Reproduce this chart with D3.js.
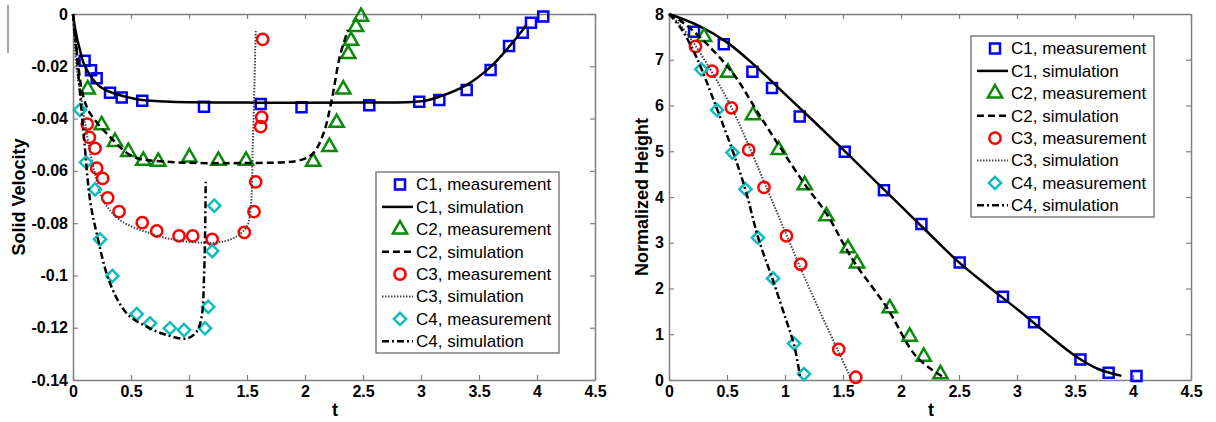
<!DOCTYPE html>
<html>
<head>
<meta charset="utf-8">
<script src="https://cdn.jsdelivr.net/npm/d3@7"></script>
<style>
  body { margin: 0; background: #fff; }
  svg text { font-family: "Liberation Sans", Arial, sans-serif; }
</style>
</head>
<body>
<div id="chart"></div>
<script>
const width = 1216
const height = 422

// ticks
const tTicks = [0, 0.5, 1, 1.5, 2, 2.5, 3, 3.5, 4, 4.5]
const velTicks = [0, -0.02, -0.04, -0.06, -0.08, -0.1, -0.12, -0.14]
const hTicks = [0, 1, 2, 3, 4, 5, 6, 7, 8]

const legendLabels = ["C1, measurement", "C1, simulation", "C2, measurement", "C2, simulation",
  "C3, measurement", "C3, simulation", "C4, measurement", "C4, simulation"]

// solid velocity panel, [t, v]
const velC1Meas = [[0.10,-0.0179],[0.155,-0.0215],[0.204,-0.0246],[0.319,-0.0301],[0.42,-0.0319],[0.597,-0.0332],
  [1.129,-0.0355],[1.618,-0.0344],[1.97,-0.0357],[2.554,-0.0349],[2.985,-0.0336],[3.158,-0.0329],[3.394,-0.0291],
  [3.60,-0.0214],[3.759,-0.0122],[3.877,-0.0072],[3.948,-0.0033],[4.054,-0.0010]]
const velC1Sim = [[0,0],[0.02,-0.006],[0.06,-0.0138],[0.103,-0.020],[0.233,-0.0278],[0.52,-0.0323],[0.8,-0.0335],
  [1.5,-0.0339],[2.5,-0.0339],[3.0,-0.0334],[3.16,-0.0316],[3.39,-0.0272],[3.6,-0.0202],[3.76,-0.0125],[3.91,-0.0042]]
const velC2Meas = [[0.127,-0.0288],[0.247,-0.0425],[0.362,-0.0489],[0.477,-0.0527],[0.606,-0.0561],[0.735,-0.0565],
  [1.003,-0.0548],[1.253,-0.0561],[1.491,-0.0561],[2.07,-0.0565],[2.21,-0.0508],[2.273,-0.0416],[2.33,-0.0288],
  [2.373,-0.0153],[2.397,-0.0102],[2.44,-0.0049],[2.483,-0.0010]]
const velC2Sim = [[0,0],[0.02,-0.008],[0.046,-0.02],[0.089,-0.0316],[0.147,-0.038],[0.319,-0.047],[0.52,-0.0546],
  [0.81,-0.0565],[1.5,-0.057],[1.96,-0.0559],[2.07,-0.0533],[2.16,-0.0456],[2.23,-0.0329],[2.30,-0.0163],[2.37,-0.0061]]
const velC3Meas = [[0.123,-0.0421],[0.141,-0.0472],[0.19,-0.0514],[0.204,-0.0590],[0.256,-0.0629],[0.299,-0.0703],
  [0.397,-0.0756],[0.597,-0.0798],[0.722,-0.0830],[0.914,-0.0849],[1.032,-0.0849],[1.20,-0.0862],[1.477,-0.0835],
  [1.56,-0.0756],[1.575,-0.0642],[1.618,-0.0431],[1.627,-0.0395],[1.635,-0.0097]]
const velC3Sim = [[0,0],[0.03,-0.020],[0.075,-0.033],[0.118,-0.0456],[0.175,-0.0584],[0.26,-0.0712],[0.405,-0.0788],
  [0.664,-0.0839],[0.894,-0.0865],[1.21,-0.0875],[1.38,-0.0858],[1.497,-0.0814],[1.53,-0.075],[1.55,-0.05],
  [1.565,-0.025],[1.575,-0.006]]
const velC4Meas = [[0.06,-0.0367],[0.112,-0.0567],[0.19,-0.0671],[0.233,-0.0862],[0.339,-0.1002],[0.549,-0.1148],
  [0.664,-0.1183],[0.836,-0.1202],[0.957,-0.1209],[1.138,-0.1202],[1.166,-0.1120],[1.20,-0.0907],[1.218,-0.0733]]
const velC4Sim = [[0,0],[0.02,-0.010],[0.05,-0.025],[0.1,-0.05],[0.147,-0.0712],[0.204,-0.0839],[0.319,-0.103],
  [0.463,-0.1145],[0.635,-0.1196],[0.808,-0.1228],[0.98,-0.1241],[1.066,-0.1215],[1.109,-0.1158],[1.13,-0.1],
  [1.14,-0.08],[1.144,-0.0642]]

// normalized height panel, [t, h]
const hC1Meas = [[0.216,7.61],[0.472,7.34],[0.719,6.74],[0.888,6.38],[1.127,5.76],[1.515,4.99],[1.853,4.15],
  [2.176,3.41],[2.506,2.57],[2.879,1.82],[3.147,1.26],[3.547,0.45],[3.79,0.16],[4.03,0.09]]
const hC1Sim = [[0,8],[0.25,7.75],[0.5,7.38],[0.75,6.85],[1.0,6.25],[1.25,5.65],[1.5,5.04],[1.75,4.42],[2.0,3.80],
  [2.25,3.18],[2.5,2.57],[2.75,2.05],[3.0,1.55],[3.25,1.03],[3.5,0.53],[3.7,0.24],[3.9,0.09]]
const hC2Meas = [[0.302,7.50],[0.509,6.72],[0.724,5.79],[0.946,5.03],[1.170,4.26],[1.357,3.58],[1.543,2.88],
  [1.621,2.55],[1.903,1.57],[2.075,0.95],[2.196,0.51],[2.34,0.13]]
const hC2Sim = [[0,8],[0.1,7.85],[0.265,7.50],[0.552,6.70],[0.753,5.90],[0.954,5.10],[1.184,4.23],[1.357,3.64],
  [1.586,2.62],[1.874,1.60],[2.133,0.51],[2.36,0.07]]
const hC3Meas = [[0.228,7.29],[0.371,6.75],[0.538,5.95],[0.687,5.03],[0.819,4.21],[1.012,3.15],[1.135,2.53],
  [1.463,0.67],[1.61,0.06]]
const hC3Sim = [[0,8],[0.1,7.75],[0.23,7.3],[0.4,6.6],[0.55,5.9],[0.7,5.05],[0.85,4.15],[1.0,3.25],[1.15,2.35],
  [1.3,1.5],[1.45,0.68],[1.56,0.08]]
const hC4Meas = [[0.279,6.79],[0.414,5.90],[0.547,4.97],[0.659,4.17],[0.767,3.11],[0.897,2.22],[1.078,0.80],[1.164,0.13]]
const hC4Sim = [[0,8],[0.1,7.7],[0.2,7.25],[0.28,6.8],[0.41,5.95],[0.55,5.0],[0.66,4.15],[0.77,3.1],[0.9,2.15],
  [1.01,1.31],[1.08,0.75],[1.13,0.07]]

const meas = [
  { color: "#0000ff", shape: "square" },
  { color: "#0a8a0a", shape: "triangle" },
  { color: "#ff0000", shape: "circle" },
  { color: "#10bcbc", shape: "diamond" }
]
const sims = [
  { color: "#000", w: 2.5, dash: null },
  { color: "#000", w: 2.5, dash: "7,4" },
  { color: "#444", w: 2, dash: "1.5,1.5" },
  { color: "#000", w: 2.5, dash: "7,3,2,3" }
]

let svg = d3.select("#chart").append("svg")
  .attr("width", width)
  .attr("height", height)

// stray scan mark at the left edge
svg.append("line").attr("x1", 8).attr("x2", 8).attr("y1", 5).attr("y2", 53)
  .attr("stroke", "#888").attr("stroke-width", 1.5)

function symbolPath(shape) {
  if (shape == "square") return d3.symbol(d3.symbolSquare, 100)()
  if (shape == "triangle") return d3.symbol(d3.symbolTriangle, 88)()
  if (shape == "circle") return d3.symbol(d3.symbolCircle, 100)()
  return d3.symbol(d3.symbolSquare, 74)()
}

function drawPanel(opt) {
  let x = d3.scaleLinear().domain([0, 4.5]).range(opt.xr)
  let y = d3.scaleLinear().domain(opt.yd).range([380, 14])
  let g = svg.append("g")

  // box + ticks
  let axisColor = "#808080"
  g.append("g").attr("transform", "translate(0,380)")
    .call(d3.axisBottom(x).tickValues(tTicks).tickSizeInner(-5).tickSizeOuter(0).tickPadding(6).tickFormat(d => String(d)))
  g.append("g").attr("transform", "translate(0,14)")
    .call(d3.axisTop(x).tickValues(tTicks).tickSizeInner(-5).tickSizeOuter(0).tickFormat(""))
  g.append("g").attr("transform", `translate(${opt.xr[0]},0)`)
    .call(d3.axisLeft(y).tickValues(opt.ticks).tickSizeInner(-5).tickSizeOuter(0).tickPadding(5).tickFormat(d => String(d)))
  g.append("g").attr("transform", `translate(${opt.xr[1]},0)`)
    .call(d3.axisRight(y).tickValues(opt.ticks).tickSizeInner(-5).tickSizeOuter(0).tickFormat(""))
  g.selectAll(".domain").attr("stroke", axisColor).attr("stroke-width", 1.5)
  g.selectAll(".tick line").attr("stroke", axisColor).attr("stroke-width", 1.2)
  g.selectAll(".tick text").attr("fill", "#000").style("font-size", "16px").style("font-weight", "bold")
    .style("font-family", "'Liberation Sans', Arial, sans-serif")

  // axis titles
  g.append("text")
    .attr("x", (opt.xr[0] + opt.xr[1]) / 2 + 1).attr("y", 416)
    .attr("text-anchor", "middle")
    .style("font-size", "18px").style("font-weight", "bold")
    .text("t")
  g.append("text")
    .attr("transform", `translate(${opt.ylabX},197) rotate(-90)`)
    .attr("text-anchor", "middle")
    .style("font-size", "18px").style("font-weight", "bold")
    .text(opt.ylabel)

  let line = d3.line().x(d => x(d[0])).y(d => y(d[1])).curve(d3.curveCatmullRom.alpha(0.5))

  opt.series.forEach((s, i) => {
    let m = meas[i], sm = sims[i]
    g.append("g").selectAll("path")
      .data(s.meas)
      .enter().append("path")
      .attr("d", symbolPath(m.shape))
      .attr("transform", d => `translate(${x(d[0])},${y(d[1])})` + (m.shape == "diamond" ? " rotate(45)" : ""))
      .attr("fill", "none")
      .attr("stroke", m.color)
      .attr("stroke-width", 2.5)
    g.append("path")
      .datum(s.sim)
      .attr("d", line)
      .attr("fill", "none")
      .attr("stroke", sm.color)
      .attr("stroke-width", sm.w)
      .attr("stroke-dasharray", sm.dash)
  })

  // legend
  let lg = g.append("g").attr("transform", `translate(${opt.legend[0]},${opt.legend[1]})`)
  lg.append("rect").attr("width", 183).attr("height", 181)
    .attr("fill", "#fff").attr("stroke", "#606060").attr("stroke-width", 1.2)
  legendLabels.forEach((lab, i) => {
    let yy = 12.5 + i * 22.4
    let k = Math.floor(i / 2)
    if (i % 2 == 0) {
      lg.append("path")
        .attr("d", symbolPath(meas[k].shape))
        .attr("transform", `translate(24,${yy})` + (meas[k].shape == "diamond" ? " rotate(45)" : ""))
        .attr("fill", "none").attr("stroke", meas[k].color).attr("stroke-width", 2.5)
    } else {
      lg.append("line")
        .attr("x1", 6).attr("x2", 37).attr("y1", yy).attr("y2", yy)
        .attr("stroke", sims[k].color).attr("stroke-width", sims[k].w)
        .attr("stroke-dasharray", sims[k].dash)
    }
    lg.append("text")
      .attr("x", 40).attr("y", yy).attr("dy", "0.35em")
      .style("font-size", "17px")
      .text(lab)
  })
}

drawPanel({
  xr: [73, 595],
  yd: [-0.14, 0],
  ticks: velTicks,
  ylabel: "Solid Velocity",
  ylabX: 25,
  legend: [376, 172],
  series: [
    { meas: velC1Meas, sim: velC1Sim },
    { meas: velC2Meas, sim: velC2Sim },
    { meas: velC3Meas, sim: velC3Sim },
    { meas: velC4Meas, sim: velC4Sim }
  ]
})

drawPanel({
  xr: [669, 1191],
  yd: [0, 8],
  ticks: hTicks,
  ylabel: "Normalized Height",
  ylabX: 648,
  legend: [971, 36],
  series: [
    { meas: hC1Meas, sim: hC1Sim },
    { meas: hC2Meas, sim: hC2Sim },
    { meas: hC3Meas, sim: hC3Sim },
    { meas: hC4Meas, sim: hC4Sim }
  ]
})
</script>
</body>
</html>
